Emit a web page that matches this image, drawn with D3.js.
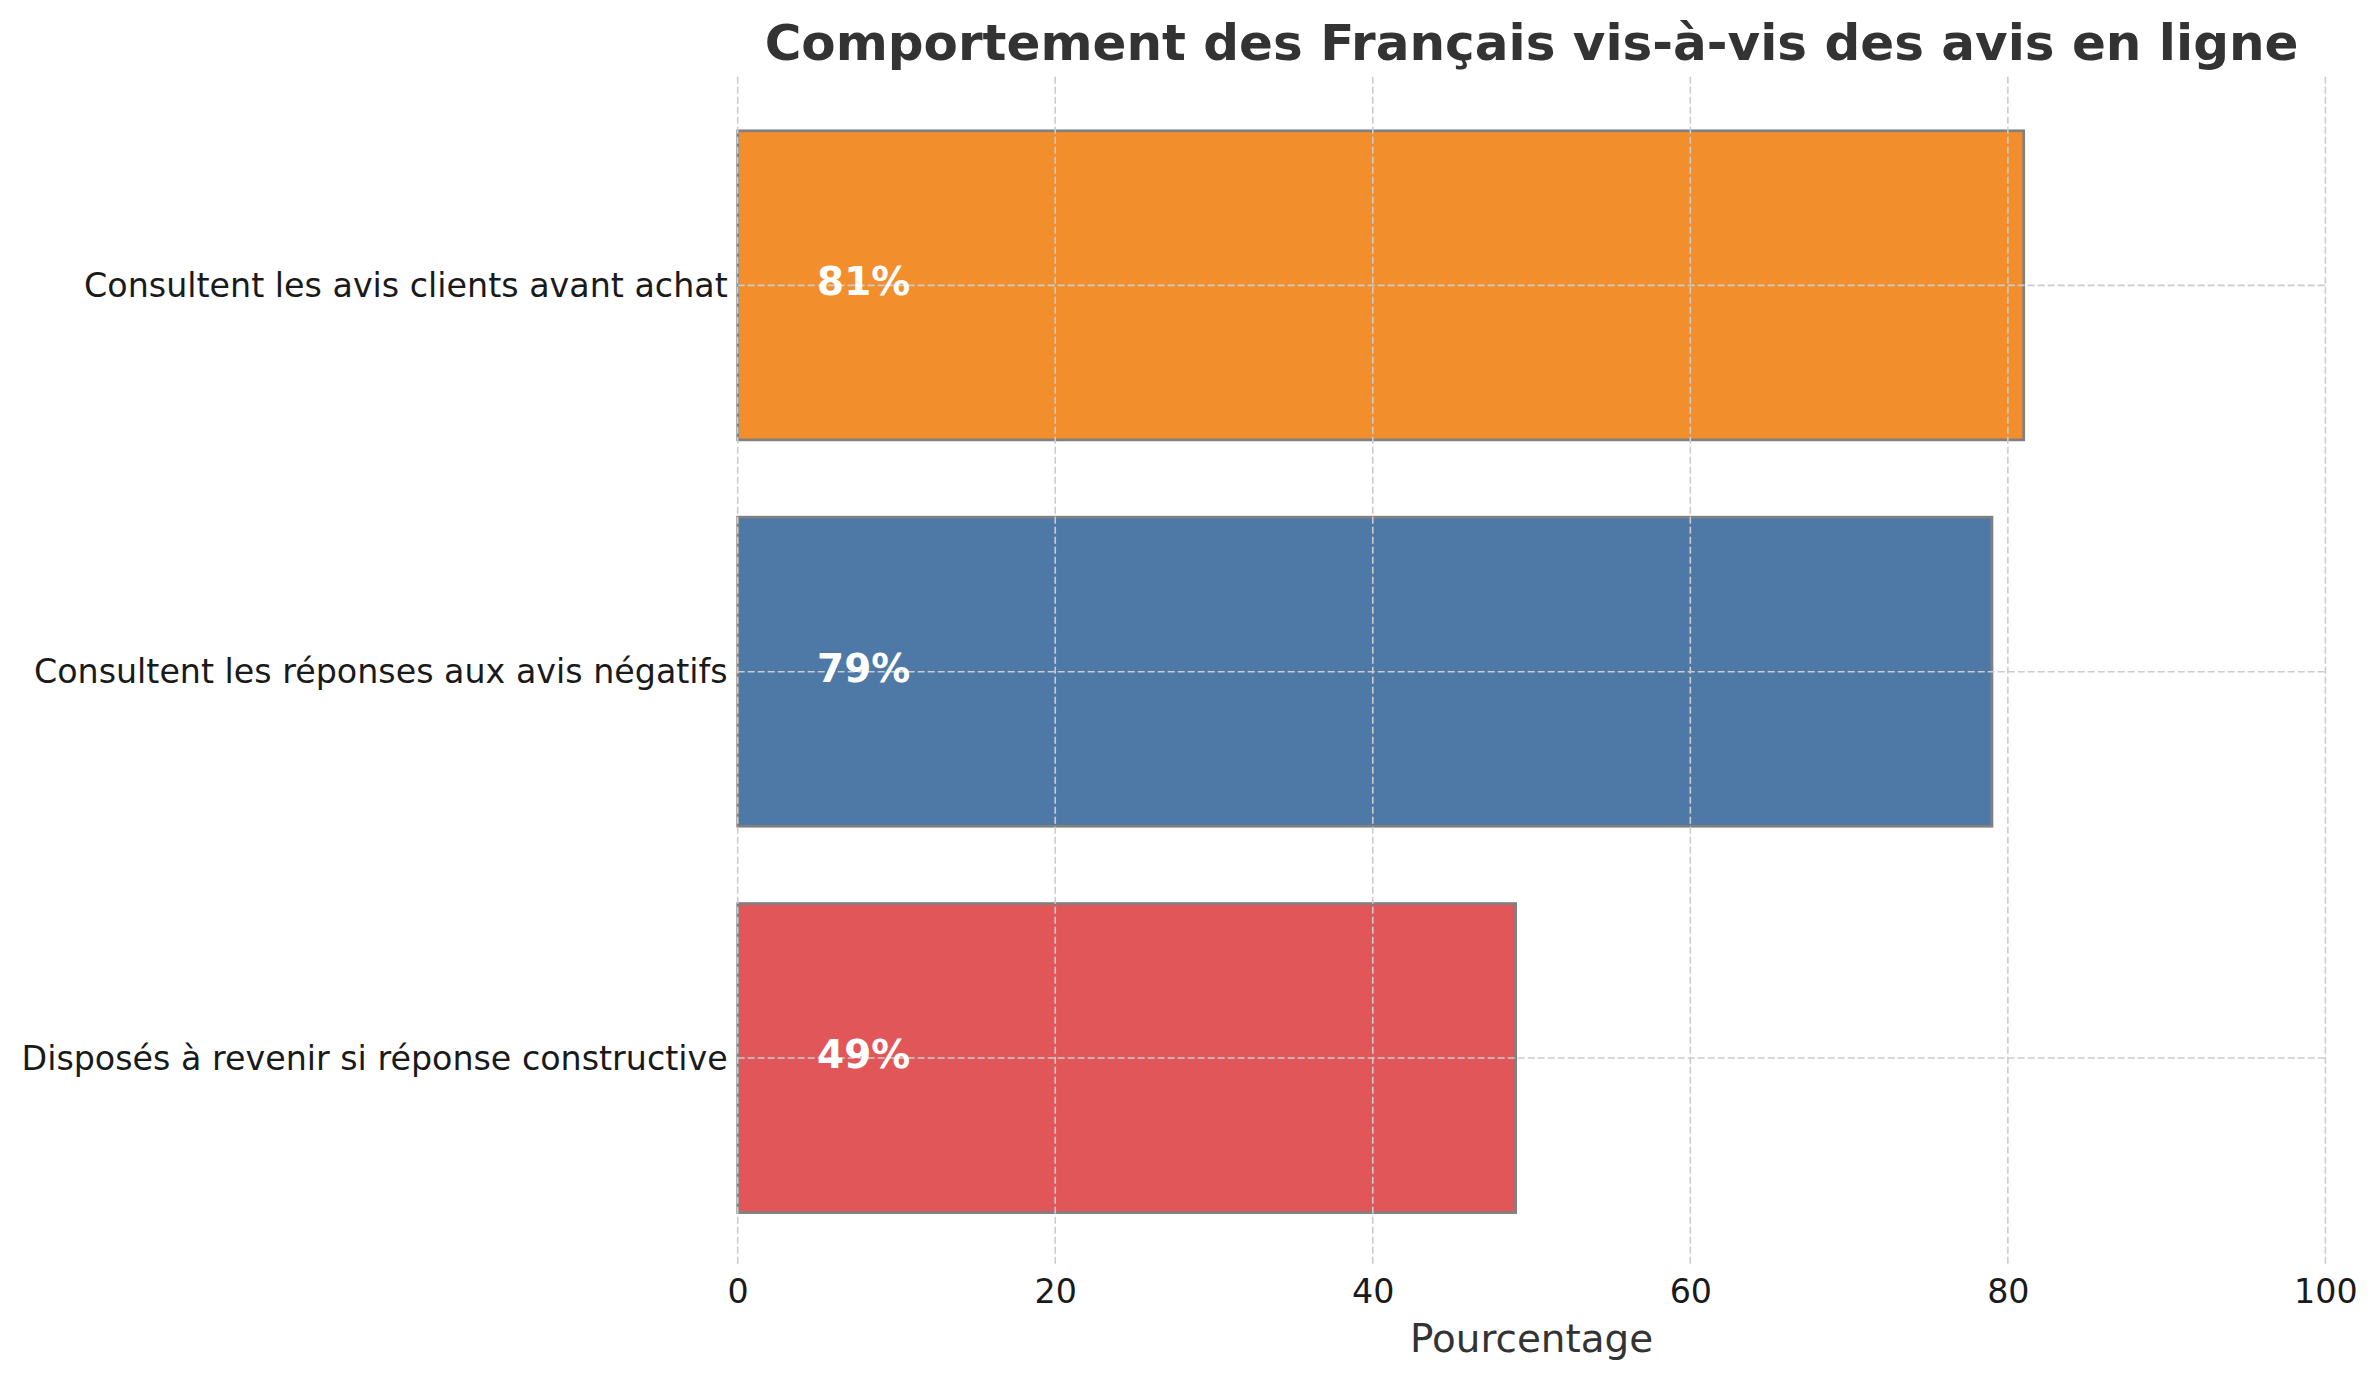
<!DOCTYPE html>
<html>
<head>
<meta charset="utf-8">
<script src="https://cdn.jsdelivr.net/npm/d3@7"></script>
<style>
  html, body { margin: 0; padding: 0; background: #ffffff; }
  svg { display: block; }
</style>
</head>
<body>
<svg id="chart" width="2380" height="1380"></svg>
<script>
// ---- Data ----
const categories = [
  "Consultent les avis clients avant achat",
  "Consultent les réponses aux avis négatifs",
  "Disposés à revenir si réponse constructive"
];
const values = [81, 79, 49];
const barColors = ["#F28E2B", "#4E79A7", "#E15759"];
const xTicks = [0, 20, 40, 60, 80, 100];
const titleText = "Comportement des Français vis-à-vis des avis en ligne";
const xLabelText = "Pourcentage";

// ---- Layout ----
const W = 2380, H = 1380;
const margin = { left: 737.7, right: W - 2325.4, top: 76.7, bottom: H - 1266.7 };
const svg = d3.select("#chart");
const font = "'DejaVu Sans', 'Liberation Sans', sans-serif";

const x = d3.scaleLinear().domain([0, 100]).range([margin.left, W - margin.right]);
const y = d3.scaleBand().domain(categories).range([margin.top, H - margin.bottom])
  .paddingInner(0.2).paddingOuter(0.14);

// Bars
svg.append("g").selectAll("rect")
  .data(categories)
  .join("rect")
  .attr("x", x(0))
  .attr("y", d => y(d))
  .attr("width", (d, i) => x(values[i]) - x(0))
  .attr("height", y.bandwidth())
  .attr("fill", (d, i) => barColors[i])
  .attr("stroke", "#808080")
  .attr("stroke-width", 2.7);

// Grid (drawn above bars)
const grid = svg.append("g");
grid.selectAll("line.v")
  .data(xTicks)
  .join("line")
  .attr("class", "v")
  .attr("x1", d => x(d)).attr("x2", d => x(d))
  .attr("y1", margin.top).attr("y2", H - margin.bottom)
  .attr("stroke", "#cccccc").attr("stroke-width", 1.6)
  .attr("stroke-dasharray", "7,3");
grid.selectAll("line.h")
  .data(categories)
  .join("line")
  .attr("class", "h")
  .attr("x1", x(0)).attr("x2", x(100))
  .attr("y1", d => y(d) + y.bandwidth() / 2).attr("y2", d => y(d) + y.bandwidth() / 2)
  .attr("stroke", "#cccccc").attr("stroke-width", 1.6)
  .attr("stroke-dasharray", "7,3");

// Value labels
svg.append("g").selectAll("text")
  .data(categories)
  .join("text")
  .attr("x", x(5))
  .attr("y", d => y(d) + y.bandwidth() / 2 + 10)
  .attr("font-family", font)
  .attr("font-size", 38.9)
  .attr("font-weight", "bold")
  .attr("fill", "#ffffff")
  .text((d, i) => values[i] + "%");

// Y axis (labels only)
const yAxis = d3.axisLeft(y).tickSize(0).tickPadding(10);
const gy = svg.append("g").attr("transform", `translate(${x(0)},0)`).call(yAxis);
gy.select(".domain").remove();
gy.selectAll("text")
  .attr("font-family", font)
  .attr("font-size", 33.3)
  .attr("fill", "#1a1a1a")
  .attr("dy", null)
  .attr("dominant-baseline", "central");

// X axis (labels only)
const xAxis = d3.axisBottom(x).tickValues(xTicks).tickSize(0).tickPadding(13);
const gx = svg.append("g").attr("transform", `translate(0,${H - margin.bottom})`).call(xAxis);
gx.select(".domain").remove();
gx.selectAll("text")
  .attr("font-family", font)
  .attr("font-size", 33.3)
  .attr("fill", "#1a1a1a");

// X label
svg.append("text")
  .attr("x", (x(0) + x(100)) / 2)
  .attr("y", 1352)
  .attr("text-anchor", "middle")
  .attr("font-family", font)
  .attr("font-size", 38.9)
  .attr("fill", "#333333")
  .text(xLabelText);

// Title
svg.append("text")
  .attr("x", (x(0) + x(100)) / 2)
  .attr("y", 60)
  .attr("text-anchor", "middle")
  .attr("font-family", font)
  .attr("font-size", 50)
  .attr("font-weight", "bold")
  .attr("fill", "#333333")
  .text(titleText);
</script>
</body>
</html>
